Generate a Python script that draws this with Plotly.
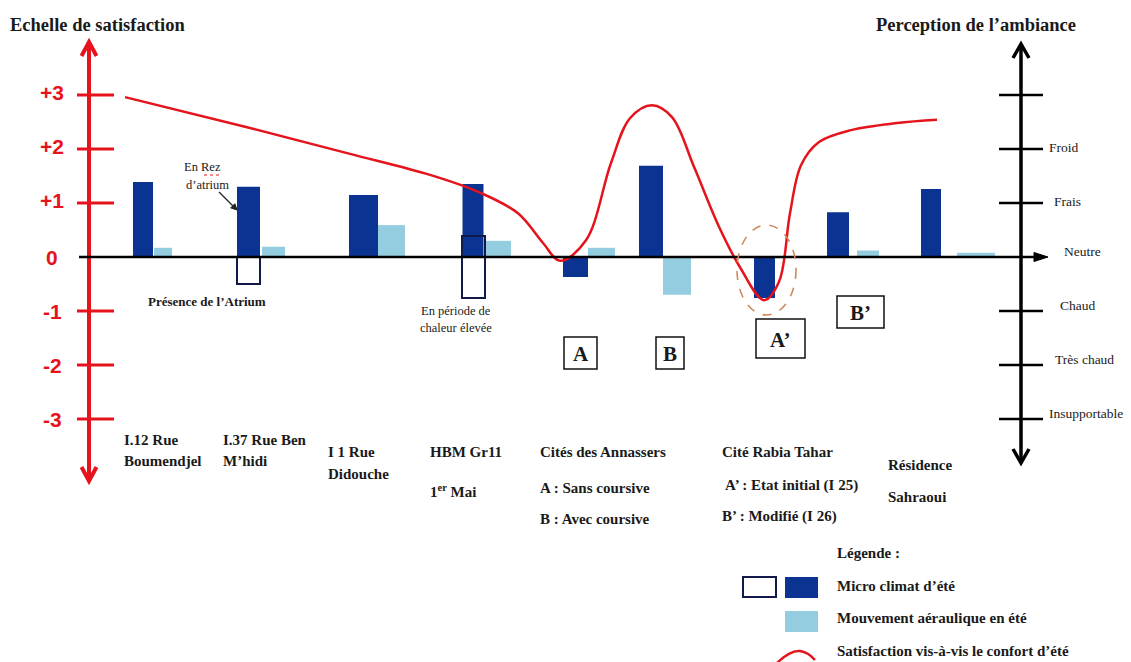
import plotly.graph_objects as go

# ---------------- data ----------------
sites = ["I.12 Rue Boumendjel", "I.37 Rue Ben M'hidi", "I 1 Rue Didouche",
         "HBM Gr11 1er Mai", "A", "B", "A'", "B'", "Résidence Sahraoui"]
micro_climat = [1.39, 1.30, 1.15, 1.35, -0.37, 1.69, -0.76, 0.83, 1.26]
mouvement_aeraulique = [0.17, 0.19, 0.59, 0.30, 0.17, -0.70, None, 0.12, 0.08]
# alternative micro-climate state (outlined boxes): top and bottom values
alt_sites = ["I.37 Rue Ben M'hidi", "HBM Gr11 1er Mai"]
alt_top = [0.0, 0.39]
alt_bottom = [-0.50, -0.76]
# satisfaction curve
curve_vals = [2.96, 2.39, 1.91, 1.52, 1.20, 0.81, 0.26, -0.07, 0.31, 1.74, 2.57,
              2.81, 2.59, 1.67, 0.56, -0.19, -0.80, -0.46, 0.81, 1.70, 2.13,
              2.35, 2.48, 2.54]
sat_ticks = [3, 2, 1, 0, -1, -2, -3]
sat_labels = ["+3", "+2", "+1", "0", "-1", "-2", "-3"]
amb_ticks = [3, 2, 1, 0, -1, -2, -3]
amb_labels = ["", "Froid", "Frais", "Neutre", "Chaud", "Très chaud", "Insupportable"]

# ---------------- layout positions (pixels) ----------------
dark_x = [143, 248.5, 363.5, 473, 575.5, 651, 764.5, 838, 931]
dark_w = [20, 23, 29, 21, 25, 24, 21, 22, 20]
light_x = [163, 273.5, 391.5, 498, 601.5, 677, 764.5, 868, 976]
light_w = [18, 23, 27, 26, 27, 28, 20, 22, 38]
alt_x = [248.5, 473.5]
alt_w = [23, 23]
curve_x = [125, 250, 350, 430, 479, 518, 543, 560, 586, 611, 630, 652, 672,
           694, 719, 740, 764, 779, 790, 801, 819, 851, 897, 937]

W, H = 1131, 662
Y0, PX = 257.0, 54.0          # pixel row of value 0, pixels per unit
y_range = [(Y0 - H) / PX, Y0 / PX]

RED = "#e5141c"
DARK = "#0b3391"
LIGHT = "#93cddf"
INK = "#1a1a1a"
SERIF = "Liberation Serif"
SANS = "Liberation Sans"

fig = go.Figure()
fig.add_trace(go.Bar(x=dark_x, y=micro_climat, width=dark_w, marker=dict(color=DARK, line=dict(width=0)),
                     name="Micro climat d'été", hoverinfo="skip"))
fig.add_trace(go.Bar(x=light_x, y=mouvement_aeraulique, width=light_w, marker=dict(color=LIGHT, line=dict(width=0)),
                     name="Mouvement aéraulique en été", hoverinfo="skip"))
fig.add_trace(go.Bar(x=alt_x, y=[t - b for t, b in zip(alt_top, alt_bottom)], base=alt_bottom, width=alt_w,
                     marker=dict(color="rgba(255,255,255,0)", line=dict(color="#111a4a", width=2)),
                     name="Micro climat d'été (variante)", hoverinfo="skip"))
fig.add_trace(go.Scatter(x=curve_x, y=curve_vals, mode="lines",
                         line=dict(color=RED, width=2.5, shape="spline", smoothing=1.0),
                         name="Satisfaction vis-à-vis le confort d'été", hoverinfo="skip"))

shapes = []
ann = []

def pline(x0, y0, x1, y1, color, w, yref="y2", dash=None):
    d = dict(type="line", xref="x", yref=yref, x0=x0, y0=y0, x1=x1, y1=y1,
             line=dict(color=color, width=w))
    if dash:
        d["line"]["dash"] = dash
    shapes.append(d)

def ppath(path, color, w, fill=None):
    d = dict(type="path", xref="x", yref="y2", path=path, line=dict(color=color, width=w))
    if fill:
        d["fillcolor"] = fill
    shapes.append(d)

def text(x, y, t, size=13, color=INK, family=SERIF, xanchor="left", yanchor="middle", yref="y2", yshift=0):
    ann.append(dict(x=x, y=y, xref="x", yref=yref, text=t, showarrow=False, xanchor=xanchor,
                    yanchor=yanchor, yshift=yshift, font=dict(size=size, color=color, family=family)))

# left red axis
pline(89, 43, 89, 479, RED, 4)
ppath("M 81.5 56 L 89 42 L 96.5 56", RED, 4)
ppath("M 81.5 467 L 89 481 L 96.5 467", RED, 4)
for v, lab in zip(sat_ticks, sat_labels):
    if v != 0:
        pline(77, v, 114, v, RED, 3, yref="y")
    text(52, v, "<b>" + lab + "</b>", size=21, color=RED, family=SANS, xanchor="center", yref="y",
         yshift=3 if v > 0 else 0)

# zero line with arrow
pline(79, 0, 1040, 0, "#000000", 2.5, yref="y")
ppath("M 1034 252.5 L 1048 257 L 1034 261.5 Z", "#000000", 1, fill="#000000")

# right black axis
pline(1021, 45, 1021, 462, "#000000", 3.5)
ppath("M 1013 58 L 1021 44 L 1029 58", "#000000", 3.5)
ppath("M 1013 449 L 1021 463 L 1029 449", "#000000", 3.5)
amb_label_x = [0, 1047, 1052, 1062, 1058, 1053, 1047]
for v, lab, lx in zip(amb_ticks, amb_labels, amb_label_x):
    if v != 0:
        pline(999, v, 1043, v, "#000000", 2.5, yref="y")
    if lab:
        text(lx, v, lab, size=13.5, family=SERIF, yref="y", yshift=6 if v <= 0 else 2)

# titles
text(8, 25, "<b>Echelle de satisfaction</b>", size=18.5)
text(874, 25, "<b>Perception de l’ambiance</b>", size=18.5)

# annotations around bars
text(202, 167, "En Rez", size=12.5, xanchor="center")
shapes.append(dict(type="line", xref="x", yref="y2", x0=204, x1=219, y0=175, y1=175,
                   line=dict(color=RED, width=1, dash="dot")))
text(207, 185, "d’atrium", size=12.5, xanchor="center")
pline(219, 192, 233, 206, "#222222", 1.2)
ppath("M 237 210 L 230.7 207.9 L 234.9 203.7 Z", "#222222", 1, fill="#222222")
text(207, 301, "<b>Présence de l’Atrium</b>", size=13, xanchor="center")
text(456, 311, "En période de", size=12.5, xanchor="center")
text(456, 328, "chaleur élevée", size=12.5, xanchor="center")

# dashed ellipse around A'
shapes.append(dict(type="circle", xref="x", yref="y2", x0=737, x1=796, y0=225, y1=315,
                   line=dict(color="#cf8a5c", width=1.6, dash="dash")))

# boxed letters
for (x0, x1, y0, y1, lab) in [(564, 597, 337, 369, "A"), (656, 684, 337, 369, "B"),
                              (756, 805, 319, 358, "A’"), (837, 884, 296, 328, "B’")]:
    shapes.append(dict(type="rect", xref="x", yref="y2", x0=x0, x1=x1, y0=y0, y1=y1,
                       line=dict(color="#111111", width=1.5), fillcolor="rgba(255,255,255,0)"))
    text((x0 + x1) / 2, (y0 + y1) / 2 + 1, "<b>" + lab + "</b>", size=21, xanchor="center")

# site labels
site_text = [
    (122, 440, "I.12 Rue"), (122, 461, "Boumendjel"),
    (221, 440, "I.37 Rue Ben"), (221, 461, "M’hidi"),
    (326, 452, "I 1 Rue"), (326, 474, "Didouche"),
    (428, 452, "HBM Gr11"), (428, 491, "1<sup>er</sup> Mai"),
    (538, 452, "Cités des Annassers"), (538, 488, "A : Sans coursive"), (538, 519, "B : Avec coursive"),
    (720, 452, "Cité Rabia Tahar"), (723, 485, "A’ : Etat initial (I 25)"), (720, 516, "B’ : Modifié (I 26)"),
    (886, 465, "Résidence"), (886, 497, "Sahraoui"),
]
for x, y, t in site_text:
    text(x, y, "<b>" + t + "</b>", size=15)

# legend (drawn)
text(835, 553, "<b>Légende :</b>", size=15)
shapes.append(dict(type="rect", xref="x", yref="y2", x0=743, x1=776, y0=577, y1=597,
                   line=dict(color="#111a4a", width=2), fillcolor="rgba(255,255,255,0)"))
shapes.append(dict(type="rect", xref="x", yref="y2", x0=785, x1=818, y0=577, y1=598,
                   line=dict(width=0), fillcolor=DARK))
text(835, 586, "<b>Micro climat d’été</b>", size=15)
shapes.append(dict(type="rect", xref="x", yref="y2", x0=785, x1=818, y0=611, y1=632,
                   line=dict(width=0), fillcolor=LIGHT))
text(835, 618, "<b>Mouvement aéraulique en été</b>", size=15)
ppath("M 776 664 Q 790 650 800 651 Q 808 652 815 660", RED, 2.5)
text(835, 651, "<b>Satisfaction vis-à-vis le confort d’été</b>", size=15)

fig.update_layout(
    width=W, height=H, margin=dict(l=0, r=0, t=0, b=0),
    paper_bgcolor="white", plot_bgcolor="white",
    barmode="overlay", showlegend=False,
    xaxis=dict(range=[0, W], visible=False, fixedrange=True),
    yaxis=dict(range=y_range, visible=False, fixedrange=True),
    yaxis2=dict(range=[H, 0], visible=False, overlaying="y", fixedrange=True),
    shapes=shapes, annotations=ann,
)
fig.write_html("out.html", include_plotlyjs=True, config={"displayModeBar": False},
               post_script="document.body.style.margin='0';document.body.style.overflow='hidden';")
